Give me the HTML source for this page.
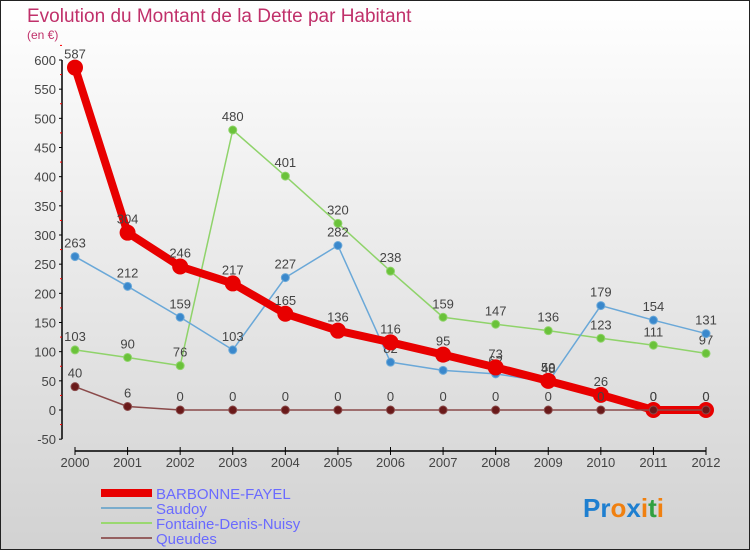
<!DOCTYPE html>
<html><head><meta charset="utf-8"><style>
body{margin:0;width:750px;height:550px;overflow:hidden;font-family:"Liberation Sans",sans-serif}
#wrap{position:relative;width:748px;height:548px;border:1px solid #222;background:linear-gradient(#fff,#d2d2d2)}
</style></head><body>
<div id="wrap">
<svg id="c" width="748" height="548"></svg>
</div>
<script>
const years=[2000,2001,2002,2003,2004,2005,2006,2007,2008,2009,2010,2011,2012];
const barbonne=[587,304,246,217,165,136,116,95,73,50,26,0,0];
const saudoy=[263,212,159,103,227,282,82,68,62,48,179,154,131];
const fontaine=[103,90,76,480,401,320,238,159,147,136,123,111,97];
const queudes=[40,6,0,0,0,0,0,0,0,0,0,0,0];
const yTicks=[-50,0,50,100,150,200,250,300,350,400,450,500,550,600];
const NS="http://www.w3.org/2000/svg";
const svg=document.getElementById('c');
const X=i=>74+i*(705-74)/12;
const Y=v=>409-v*(350/600);
function el(t,a,p){const e=document.createElementNS(NS,t);for(const k in a)e.setAttribute(k,a[k]);(p||svg).appendChild(e);return e;}
function txt(x,y,s,a,p){const e=el('text',Object.assign({x:x,y:y},a),p);e.textContent=s;return e;}
let t=txt(26,21,'Evolution du Montant de la Dette par Habitant',{'font-size':19,fill:'#c0306a'});

t=txt(26,38,'(en €)',{'font-size':12,fill:'#c0306a'});

let a=el('line',{x1:61,y1:Y(600),x2:61,y2:Y(-50),stroke:'#000','stroke-width':1.5});

yTicks.forEach(v=>{el('line',{x1:58,y1:Y(v),x2:61,y2:Y(v),stroke:'#000'});
 el('line',{x1:59,y1:Y(v+25),x2:61,y2:Y(v+25),stroke:'red'});
 const l=txt(55,Y(v)+5,String(v),{'font-size':13,fill:'#444','text-anchor':'end'});
 });
a=el('line',{x1:X(0),y1:450,x2:X(12),y2:450,stroke:'#000','stroke-width':1.5});

years.forEach((y,i)=>{el('line',{x1:X(i),y1:446,x2:X(i),y2:454,stroke:'#000'});
 const l=txt(X(i),466,String(y),{'font-size':13,fill:'#444','text-anchor':'middle'});
 });
function series(d,col,w,r,dot,name){
 const g=el('g',{});
 el('polyline',{points:d.map((v,i)=>X(i)+','+Y(v)).join(' '),fill:'none',stroke:col,'stroke-width':w,'stroke-linejoin':'round'},g);
 d.forEach((v,i)=>{const c=el('circle',{cx:X(i),cy:Y(v),r:r,fill:dot,stroke:col,'stroke-width':w>4?2:1},g);
  
  txt(X(i),Y(v)-9,String(v),{'font-size':13,fill:'#444','text-anchor':'middle'},g);});
}
series(fontaine,'#8fd36a',1.5,4,'#6ac23a','fontaine-denis-nuisy');
series(saudoy,'#6aa8d8',1.5,4,'#3a88cc','saudoy');
series(barbonne,'#e80000',8,7,'#e80000','barbonne-fayel');
series(queudes,'#8a4a4a',1.5,4,'#6a1a1a','queudes');
const leg=[['BARBONNE-FAYEL','#e80000',8],['Saudoy','#7aaccc',2],['Fontaine-Denis-Nuisy','#9ad870',2],['Queudes','#956060',2]];
leg.forEach((L,i)=>{const g=el('g',{});
 const y=493+i*15;el('line',{x1:100,y1:y-1,x2:151,y2:y-1,stroke:L[1],'stroke-width':L[2]},g);
 txt(155,y+5,L[0],{'font-size':15,fill:'#6a6aff'},g);});
const lg=el('text',{x:582,y:516,'font-size':26,'font-weight':'bold'});

const cols=['#1e7fd0','#1e7fd0','#f08010','#1e7fd0','#f08010','#30a040','#f08010'];
'Proxiti'.split('').forEach((ch,i)=>{const s=el('tspan',{fill:cols[i]},lg);s.textContent=ch;});
</script></body></html>
